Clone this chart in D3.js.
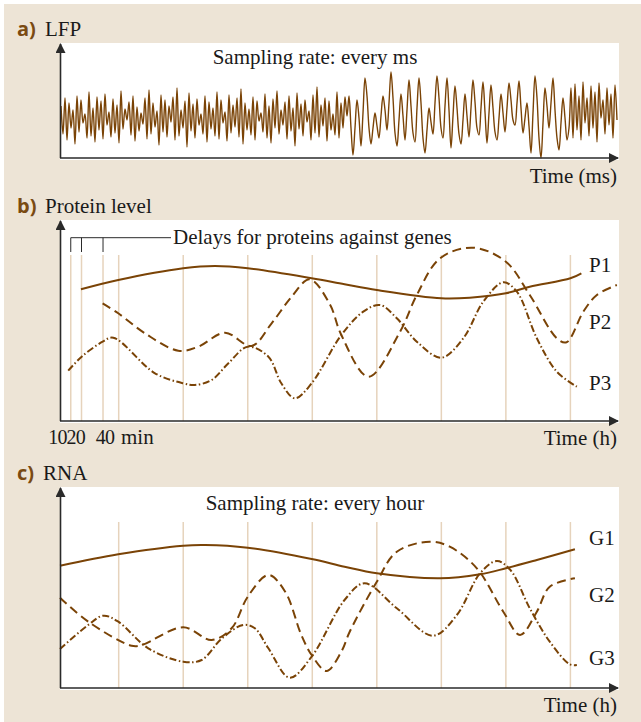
<!DOCTYPE html>
<html><head><meta charset="utf-8">
<script src="https://cdn.jsdelivr.net/npm/d3@7"></script>
<style>
html,body{margin:0;padding:0;background:#fff;}
svg{display:block;}
text{font-family:"Liberation Serif","Times New Roman",serif;fill:#1a1a1a;}
.plab{font-family:"Open Sans","Noto Sans",sans-serif;font-weight:700;fill:#7a4a12;}
</style></head>
<body>
<script>
// ---------------- DATA ----------------
// LFP samples (one per ms), level above the time axis
const lfp = [
52,24,60,18,55,30,48,14,62,26, 58,35,44,20,66,22,50,16,61,28,
57,19,64,33,46,21,59,25,53,15, 67,29,49,38,56,23,62,17,51,27,
45,34,60,19,68,24,55,31,47,13, 63,26,58,21,52,36,61,18,70,22,
48,30,57,11,65,27,54,20,59,33, 44,24,62,16,56,29,50,22,66,19,
58,35,46,17,63,25,53,31,60,21, 69,14,55,28,49,23,61,18,57,37,
45,26,64,20,52,15,59,30,67,24, 48,33,56,19,62,27,50,12,65,29,
54,22,58,36,47,18,63,25,71,21, 53,32,60,17,57,28,44,23,66,20,
55,30,61,
42,62,30,3, 30,58,40,12, 45,80,62,30,14, 30,45,32,20, 42,62,48,28,
55,86,60,25,12, 38,64,42,18, 48,78,52,25,16, 50,80,55,20,5, 28,50,36,24,
55,82,60,30,20, 52,80,48,10, 42,72,50,24,14, 38,64,42,21, 50,78,56,30,23,
50,76,46,15, 45,73,50,26,18, 40,64,45,26, 50,75,58,38,33, 55,77,50,25,
40,55,32,5, 45,82,60,20,0, 35,70,52,30, 55,80,48,20,8, 35,60,40,18,30,
70,20,74,28,62,18,76,35,60,22,72,30,66,16,75,40,58,24,70,33,64,20,73,38
];
// hourly sampling grid (h) and protein delays (min)
const gridHours = [1,2,3,4,5,6,7,8];
const delayMinutes = [10,20,40];
// Protein levels [hour, level]
const p1 = [[0.415,131.7],[0.993,141],[2.0,152.7],[2.49,155],[3.0,152.7],[3.99,142.7],[4.5,136.7],[5.0,131],[6.0,122.7],[6.44,123.3],[7.0,127.7],[7.37,134.3],[8.0,142.7],[8.17,147.7]];
const p2 = [[0.751,117.7],[0.993,107.7],[1.407,87.7],[1.923,70.3],[2.233,74.3],[2.646,88.3],[3.06,75],[3.37,97.7],[3.68,124.3],[3.96,141.7],[4.27,117],[4.45,86],[4.87,44.3],[5.36,89.3],[5.62,126],[5.98,162.7],[6.49,173.3],[7.0,159.3],[7.37,126],[7.79,82.7],[7.94,78.7],[8.2,109.3],[8.41,126],[8.72,136]];
const p3 = [[0.218,50.3],[0.426,64.3],[0.751,79.3],[0.916,83.3],[1.562,47.7],[2.0,37.7],[2.18,36],[2.44,41],[2.70,57.7],[3.0,74.3],[3.32,64.3],[3.52,37.7],[3.73,22.7],[3.99,37.7],[4.45,86],[4.79,109.3],[5.05,116],[5.31,102.7],[5.62,79.3],[6.0,63.3],[6.34,82.7],[6.65,119.3],[6.96,138.7],[7.17,129.3],[7.48,82.7],[7.79,49.3],[8.10,34.3]];
// RNA levels [hour, level]
const g1 = [[0.09,122.3],[0.993,133.7],[2.0,142.3],[2.34,143],[3.0,140.3],[3.99,129],[4.5,121.3],[5.0,114.7],[5.98,109.7],[6.6,113.7],[7.0,119.7],[7.48,128],[8.07,138.7]];
const g2 = [[0.09,90.3],[0.528,66.3],[1.2,42.3],[1.356,43],[2.0,60.7],[2.44,48],[2.75,59.7],[3.0,91.3],[3.32,113],[3.58,96.3],[3.83,53],[3.99,33],[4.22,17],[4.45,36.3],[4.58,56.3],[5.0,106.3],[5.31,136.3],[5.82,146.3],[6.13,141.3],[6.55,119.7],[6.96,76.3],[7.22,53],[7.48,76.3],[7.68,101.3],[8.07,109.7]];
const g3 = [[0.09,39],[0.528,63],[0.76,72.3],[0.993,66.3],[1.458,39.7],[2.0,26.3],[2.285,28],[2.6,49.7],[2.93,63],[3.11,59.7],[3.32,39.7],[3.65,10.3],[3.99,31.3],[4.5,88],[4.81,104.7],[5.31,79.7],[5.87,52.3],[6.24,73],[6.6,114.7],[6.86,127],[7.07,118],[7.37,79.7],[7.68,46.3],[7.99,23.7],[8.1,23]];
const proteinNames = ["P1","P2","P3"];
const geneNames = ["G1","G2","G3"];

// ---------------- LAYOUT ----------------
const W = 641, H = 722;
const L = 60, R = 619;
const FS = 21;
const brown = "#7a4306", gridCol = "#e6d3bc", axisCol = "#2a2a2a";
const svg = d3.select("body").append("svg").attr("width", W).attr("height", H);
svg.append("rect").attr("x",4).attr("y",4).attr("width",W-4).attr("height",H-4).attr("fill","#ede4d6");

const defs = svg.append("defs");
defs.append("marker").attr("id","arr").attr("viewBox","0 0 10 10").attr("refX",9).attr("refY",5)
  .attr("markerWidth",10).attr("markerHeight",10).attr("markerUnits","userSpaceOnUse").attr("orient","auto")
  .append("path").attr("d","M0,0L10,5L0,10z").attr("fill",axisCol);

function panel(top, bottom){
  svg.append("rect").attr("x",L).attr("y",top).attr("width",R-L).attr("height",bottom-top+1).attr("fill","#fff");
}
function axes(top, bottom){
  svg.append("line").attr("x1",L+0.5).attr("x2",L+0.5).attr("y1",bottom).attr("y2",top+1)
    .attr("stroke",axisCol).attr("stroke-width",1.6).attr("marker-end","url(#arr)");
  svg.append("line").attr("x1",L).attr("x2",R-1).attr("y1",bottom).attr("y2",bottom)
    .attr("stroke",axisCol).attr("stroke-width",1.6).attr("marker-end","url(#arr)");
}
function label(x,y,t,anchor){
  return svg.append("text").attr("x",x).attr("y",y).attr("font-size",FS).attr("text-anchor",anchor||"start").text(t);
}

// ---- panel a
const aTop = 43, aBot = 158;
panel(aTop, aBot+1);
const xa = d3.scaleLinear().domain([0, lfp.length-1]).range([61, 617]);
const ya = d3.scaleLinear().domain([0,115]).range([aBot, aTop]);
svg.append("path").datum(lfp)
  .attr("d", d3.line().x((d,i)=>xa(i)).y(d=>ya(d)).curve(d3.curveCatmullRom.alpha(0.5)))
  .attr("fill","none").attr("stroke",brown).attr("stroke-width",1.4).attr("stroke-linejoin","round");
axes(aTop, aBot);
svg.append("text").attr("class","plab").attr("x",17).attr("y",36).attr("font-size",20).text("a)");
label(45,36,"LFP");
label(315,64,"Sampling rate: every ms","middle");
label(617,183,"Time (ms)","end");

// shared hour scale
const xh = d3.scaleLinear().domain([1,8]).range([118.7, 570.4]);
const h0 = xh.invert(L);
const dashStyles = [null, "9,5", "7,2.5,1.5,2.5"];

function curves(series, y){
  const line = d3.line().x(d=>xh(d[0])).y(d=>y(d[1])).curve(d3.curveCatmullRom.alpha(0.5));
  series.forEach((s,i)=>{
    const p = svg.append("path").datum(s).attr("d",line).attr("fill","none")
      .attr("stroke",brown).attr("stroke-width",2).attr("stroke-linecap","butt");
    if(dashStyles[i]) p.attr("stroke-dasharray",dashStyles[i]);
  });
}

// ---- panel b
const bTop = 220, bBot = 421;
panel(bTop, bBot+1);
const yb = d3.scaleLinear().domain([0,201]).range([bBot, bTop]);
const delayHours = delayMinutes.map(m=>h0+m/60);
svg.append("g").selectAll("line").data(delayHours.concat(gridHours)).join("line")
  .attr("x1",d=>xh(d)).attr("x2",d=>xh(d)).attr("y1",yb(0)).attr("y2",yb(166))
  .attr("stroke",gridCol).attr("stroke-width",1.5);
// delay bracket
svg.append("line").attr("x1",xh(delayHours[0])).attr("x2",171).attr("y1",yb(183.3)).attr("y2",yb(183.3))
  .attr("stroke",axisCol).attr("stroke-width",1);
svg.append("g").selectAll("line").data(delayHours).join("line")
  .attr("x1",d=>xh(d)).attr("x2",d=>xh(d)).attr("y1",yb(183.3)).attr("y2",yb(169))
  .attr("stroke",axisCol).attr("stroke-width",1);
label(173,244,"Delays for proteins against genes");
curves([p1,p2,p3], yb);
axes(bTop, bBot);
svg.append("text").attr("class","plab").attr("x",17).attr("y",213).attr("font-size",20).text("b)");
label(45,213,"Protein level");
// delay tick labels
label(xh(delayHours[1])+3.5,444,`${delayMinutes[0]}${delayMinutes[1]}`,"end").attr("font-size",20).attr("letter-spacing",-0.8);
label(xh(delayHours[2])+2,444,`${delayMinutes[2]}`,"middle").attr("font-size",20).attr("letter-spacing",-0.8);
label(xh(delayHours[2])+18,444,"min");
label(617,445,"Time (h)","end");
const pLabY = [272, 329, 390];
proteinNames.forEach((n,i)=>label(589,pLabY[i],n));

// ---- panel c
const cTop = 487, cBot = 688;
panel(cTop, cBot+1);
const yc = d3.scaleLinear().domain([0,201]).range([cBot, cTop]);
svg.append("g").selectAll("line").data(gridHours).join("line")
  .attr("x1",d=>xh(d)).attr("x2",d=>xh(d)).attr("y1",yc(0)).attr("y2",yc(166))
  .attr("stroke",gridCol).attr("stroke-width",1.5);
curves([g1,g2,g3], yc);
axes(cTop, cBot);
svg.append("text").attr("class","plab").attr("x",17).attr("y",480).attr("font-size",20).text("c)");
label(43,480,"RNA");
label(315,510,"Sampling rate: every hour","middle");
label(617,712,"Time (h)","end");
const gLabY = [545, 602, 665];
geneNames.forEach((n,i)=>label(589,gLabY[i],n));
</script>
</body></html>
